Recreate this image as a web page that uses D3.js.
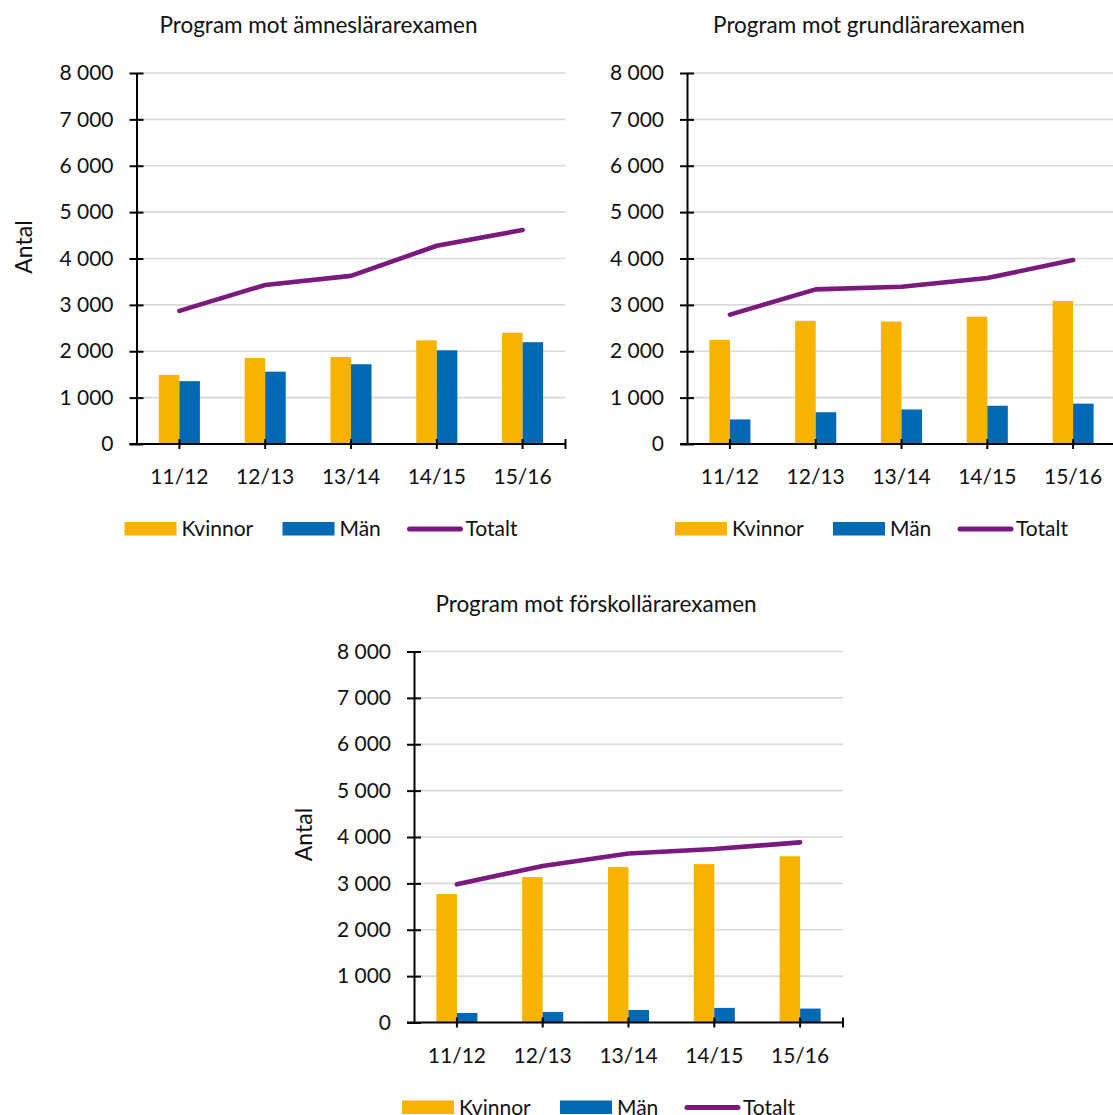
<!DOCTYPE html>
<html>
<head>
<meta charset="utf-8">
<script src="https://cdn.jsdelivr.net/npm/d3@7"></script>
<style>
  html, body { margin: 0; padding: 0; background: #fff; }
  svg { display: block; font-family: Lato, "Noto Sans", sans-serif; }
</style>
</head>
<body>
<svg id="chart" width="1113" height="1115"></svg>
<script>
// ---- data ----
const categories = ["11/12", "12/13", "13/14", "14/15", "15/16"];
const yTickValues = [0, 1000, 2000, 3000, 4000, 5000, 6000, 7000, 8000];
const seriesNames = ["Kvinnor", "Män", "Totalt"];
const titles = ["Program mot ämneslärarexamen", "Program mot grundlärarexamen", "Program mot förskollärarexamen"];
const yAxisTitle = "Antal";

const amnesKvinnor = [1490, 1855, 1875, 2235, 2400];
const amnesMan     = [1355, 1560, 1720, 2020, 2195];
const amnesTotalt  = [2870, 3430, 3625, 4275, 4615];

const grundKvinnor = [2245, 2655, 2640, 2745, 3085];
const grundMan     = [530, 685, 745, 825, 870];
const grundTotalt  = [2790, 3335, 3390, 3580, 3965];

const forskKvinnor = [2770, 3135, 3350, 3415, 3585];
const forskMan     = [205, 225, 270, 315, 300];
const forskTotalt  = [2980, 3375, 3645, 3740, 3885];

// ---- styles ----
const colKvinnor = "#F8B200";
const colMan = "#0069B3";
const colTotalt = "#7B1A7E";
const colGrid = "#D9D9D9";

const svg = d3.select("#chart");
const fmt = d3.formatLocale({decimal: ",", thousands: " ", grouping: [3], currency: ["", ""]}).format(",d");

const panels = [
  {title: titles[0], k: amnesKvinnor, m: amnesMan, t: amnesTotalt, ax: 136.5, y0: 444, antal: [-113, -197]},
  {title: titles[1], k: grundKvinnor, m: grundMan, t: grundTotalt, ax: 687, y0: 444, antal: null},
  {title: titles[2], k: forskKvinnor, m: forskMan, t: forskTotalt, ax: 414, y0: 1022.5, antal: [-110, -188]}
];

const plotW = 429, plotH = 371;

panels.forEach(p => {
  const g = svg.append("g");
  const x = d3.scaleBand().domain(categories).range([p.ax, p.ax + plotW]).paddingInner(0).paddingOuter(0);
  const xs = d3.scaleBand().domain(["k", "m"]).range([0, x.bandwidth()]).paddingInner(0).paddingOuter(1.09);
  const y = d3.scaleLinear().domain([0, 8000]).range([p.y0, p.y0 - plotH]);
  const cx = c => x(c) + x.bandwidth() / 2;

  // gridlines
  g.append("g").selectAll("line").data(yTickValues.filter(v => v > 0)).join("line")
    .attr("x1", p.ax).attr("x2", p.ax + plotW)
    .attr("y1", d => y(d)).attr("y2", d => y(d))
    .attr("stroke", colGrid).attr("stroke-width", 1.6);

  // bars
  const rows = categories.map((c, i) => ({c, k: p.k[i], m: p.m[i], t: p.t[i]}));
  g.append("g").selectAll("rect").data(rows).join("rect")
    .attr("x", d => x(d.c) + xs("k")).attr("width", xs.bandwidth())
    .attr("y", d => y(d.k)).attr("height", d => y(0) - y(d.k))
    .attr("fill", colKvinnor);
  g.append("g").selectAll("rect").data(rows).join("rect")
    .attr("x", d => x(d.c) + xs("m")).attr("width", xs.bandwidth())
    .attr("y", d => y(d.m)).attr("height", d => y(0) - y(d.m))
    .attr("fill", colMan);

  // y axis
  const yAxis = g.append("g").attr("transform", `translate(${p.ax},0)`)
    .call(d3.axisLeft(y).tickValues(yTickValues).tickFormat(fmt).tickSize(0).tickPadding(23));
  yAxis.select(".domain").attr("stroke", "#000").attr("stroke-width", 2);
  yAxis.selectAll(".tick line").attr("x1", -7).attr("x2", 7).attr("stroke", "#000").attr("stroke-width", 2);
  yAxis.selectAll(".tick text").attr("font-size", 21).attr("font-family", "Lato").attr("fill", "#111");

  // x axis
  const xAxis = g.append("g").attr("transform", `translate(0,${p.y0})`)
    .call(d3.axisBottom(x).tickSize(0).tickSizeOuter(0).tickPadding(0));
  xAxis.select(".domain").remove();
  xAxis.append("line").attr("x1", p.ax - 7).attr("x2", p.ax + plotW)
    .attr("stroke", "#000").attr("stroke-width", 2);
  xAxis.selectAll(".tick line").attr("y1", -5).attr("y2", 5).attr("stroke", "#000").attr("stroke-width", 2);
  xAxis.append("line").attr("x1", p.ax + plotW).attr("x2", p.ax + plotW).attr("y1", -5).attr("y2", 5)
    .attr("stroke", "#000").attr("stroke-width", 2);
  xAxis.selectAll(".tick text").attr("y", 40).attr("dy", null)
    .attr("font-size", 21).attr("font-family", "Lato").attr("fill", "#111");

  // total line
  g.append("path").datum(rows)
    .attr("d", d3.line().x(d => cx(d.c)).y(d => y(d.t)))
    .attr("fill", "none").attr("stroke", colTotalt).attr("stroke-width", 4.6)
    .attr("stroke-linecap", "round").attr("stroke-linejoin", "round");

  // title
  g.append("text").attr("x", p.ax + 182).attr("y", p.y0 - 411)
    .attr("text-anchor", "middle").attr("font-size", 22.5).attr("fill", "#111").text(p.title);

  // y axis title
  if (p.antal) {
    g.append("text")
      .attr("transform", `translate(${p.ax + p.antal[0] + 8},${p.y0 + p.antal[1]}) rotate(-90)`)
      .attr("text-anchor", "middle").attr("font-size", 23).attr("fill", "#111").text(yAxisTitle);
  }

  // legend
  const lx = p.ax - 12, ly = p.y0 + 78;
  const lg = g.append("g").attr("font-size", 21).attr("fill", "#111");
  lg.append("rect").attr("x", lx).attr("y", ly).attr("width", 52).attr("height", 13.5).attr("fill", colKvinnor);
  lg.append("text").attr("x", lx + 57).attr("y", ly + 14).text(seriesNames[0]);
  lg.append("rect").attr("x", lx + 158).attr("y", ly).attr("width", 52).attr("height", 13.5).attr("fill", colMan);
  lg.append("text").attr("x", lx + 215).attr("y", ly + 14).text(seriesNames[1]);
  lg.append("line").attr("x1", lx + 285).attr("x2", lx + 336).attr("y1", ly + 7).attr("y2", ly + 7)
    .attr("stroke", colTotalt).attr("stroke-width", 5).attr("stroke-linecap", "round");
  lg.append("text").attr("x", lx + 341).attr("y", ly + 14).text(seriesNames[2]);
});
</script>
</body>
</html>
